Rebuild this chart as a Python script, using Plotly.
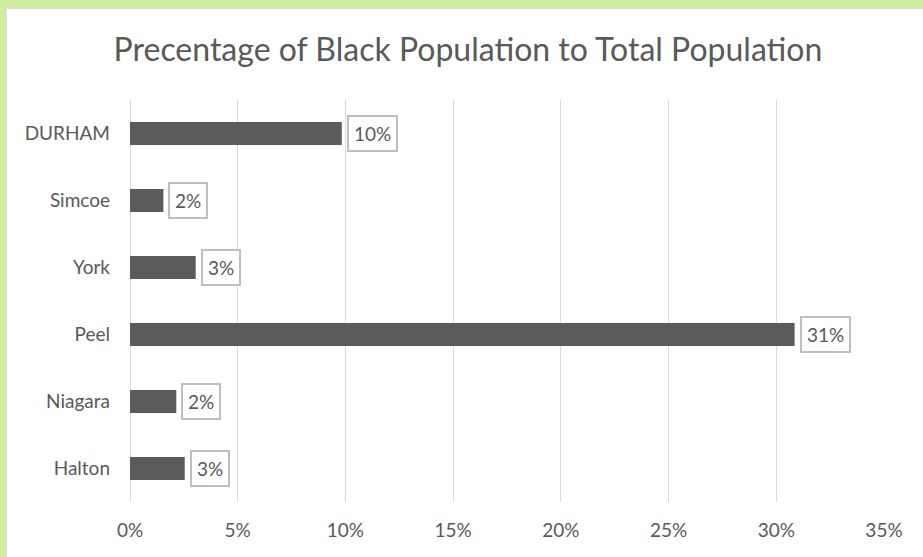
import plotly.graph_objects as go

# data (percent of total population)
regions = ["DURHAM", "Simcoe", "York", "Peel", "Niagara", "Halton"]
black_pct = [9.83, 1.55, 3.05, 30.85, 2.15, 2.54]
x_ticks = [0, 5, 10, 15, 20, 25, 30, 35]

W, H = 923, 557
L, R, T, B = 130, 39, 100, 55
pw, ph = W - L - R, H - T - B


def px(x):
    return (x - L) / pw


def py(y):
    return (H - B - y) / ph


grey_txt = "#595959"
font = "Lato, Carlito, 'Open Sans', sans-serif"

fig = go.Figure()

fig.add_trace(
    go.Bar(
        x=black_pct,
        y=regions,
        orientation="h",
        marker=dict(color="#5b5b5b", line=dict(width=0)),
        hoverinfo="x+y",
    )
)

# boxed data labels, like the excel ones
annos = []
for r, v in zip(regions, black_pct):
    annos.append(dict(
        x=v, y=r, xref="x", yref="y",
        text=f"{round(v)}%",
        showarrow=False,
        xanchor="left", yanchor="middle",
        xshift=5,
        font=dict(family=font, size=19, color=grey_txt),
        bordercolor="#bfbfbf", borderwidth=2, borderpad=5,
        bgcolor="white",
    ))

# green frame on top / left edge
shapes = [
    dict(type="rect", xref="paper", yref="paper", layer="below",
         x0=px(0), x1=px(W), y0=py(7), y1=py(0),
         fillcolor="#cfee9b", line=dict(width=0)),
    dict(type="rect", xref="paper", yref="paper", layer="below",
         x0=px(0), x1=px(5), y0=py(H), y1=py(0),
         fillcolor="#cfee9b", line=dict(width=0)),
    dict(type="rect", xref="paper", yref="paper", layer="below",
         x0=px(5), x1=px(W), y0=py(9), y1=py(7),
         fillcolor="#dcdcdc", line=dict(width=0)),
    dict(type="rect", xref="paper", yref="paper", layer="below",
         x0=px(5), x1=px(7), y0=py(H), y1=py(7),
         fillcolor="#dcdcdc", line=dict(width=0)),
]

fig.update_layout(
    width=W, height=H,
    margin=dict(l=L, r=R, t=T, b=B),
    paper_bgcolor="white",
    plot_bgcolor="white",
    showlegend=False,
    bargap=0.655,
    title=dict(
        text="Precentage of Black Population to Total Population",
        x=0.507, xanchor="center",
        y=1 - 50 / H, yanchor="middle",
        font=dict(family=font, size=32, color=grey_txt),
    ),
    font=dict(family=font, color=grey_txt),
    annotations=annos,
    shapes=shapes,
)

fig.update_xaxes(
    range=[0, 35],
    tickvals=x_ticks,
    ticktext=[f"{t}%" for t in x_ticks],
    showgrid=True, gridcolor="#d9d9d9", gridwidth=1,
    zeroline=True, zerolinecolor="#d9d9d9", zerolinewidth=1,
    showline=False,
    ticks="",
    ticklabelstandoff=15,
    tickfont=dict(family=font, size=19, color=grey_txt),
    fixedrange=True,
)

fig.update_yaxes(
    autorange="reversed",
    showgrid=False,
    showline=False,
    ticks="",
    ticklabelstandoff=19,
    tickfont=dict(family=font, size=19, color=grey_txt),
    fixedrange=True,
)

# page has a default 8px body margin; drop it so the frame sits at the edge
fig.write_html(
    "out.html",
    config={"displayModeBar": False},
    post_script="document.body.style.margin='0';",
)
